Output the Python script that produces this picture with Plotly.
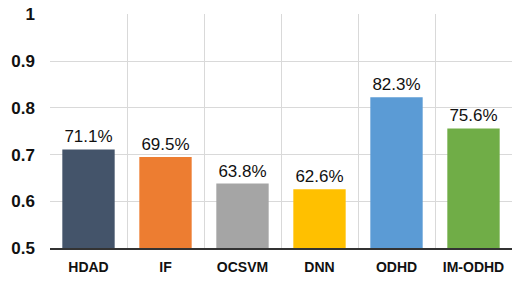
import plotly.graph_objects as go

categories = ["HDAD", "IF", "OCSVM", "DNN", "ODHD", "IM-ODHD"]
values = [0.711, 0.695, 0.638, 0.626, 0.823, 0.756]
labels = ["71.1%", "69.5%", "63.8%", "62.6%", "82.3%", "75.6%"]
colors = ["#44546A", "#ED7D31", "#A5A5A5", "#FFC000", "#5B9BD5", "#70AD47"]
ytick_vals = [0.5, 0.6, 0.7, 0.8, 0.9, 1.0]
ytick_text = ["0.5", "0.6", "0.7", "0.8", "0.9", "1"]

fig = go.Figure(go.Bar(
    x=categories, y=values, marker_color=colors, marker_line_width=0,
    text=labels, textposition="outside", cliponaxis=False,
    textfont=dict(family="Liberation Sans, Arial", size=17, color="#111111"),
    width=0.68,
))
fig.update_layout(
    width=523, height=284,
    margin=dict(l=50, r=11, t=14, b=36, autoexpand=False),
    paper_bgcolor="white", plot_bgcolor="white",
    showlegend=False,
    font=dict(family="Liberation Sans, Arial", color="#111111"),
)
fig.update_xaxes(
    type="category", tickson="boundaries", showgrid=True, gridcolor="#d9d9d9", gridwidth=1,
    ticks="", showline=True, linecolor="#333333", linewidth=1.5,
    tickfont=dict(size=14, family="Liberation Sans, Arial", weight="bold"),
    range=[-0.5, 5.5], automargin=False, ticklabelstandoff=5,
)
fig.update_yaxes(
    range=[0.5, 1.001], tickvals=ytick_vals, ticktext=ytick_text,
    showgrid=True, gridcolor="#d9d9d9", gridwidth=1, zeroline=False,
    tickfont=dict(size=17, family="Liberation Sans, Arial", weight="bold"),
    ticks="", ticklabelstandoff=14, automargin=False, ticklabeloverflow="allow",
)
fig.write_html(
    "out.html",
    config={"displayModeBar": False},
    post_script="document.body.style.margin='0';document.body.style.overflow='hidden';",
)
